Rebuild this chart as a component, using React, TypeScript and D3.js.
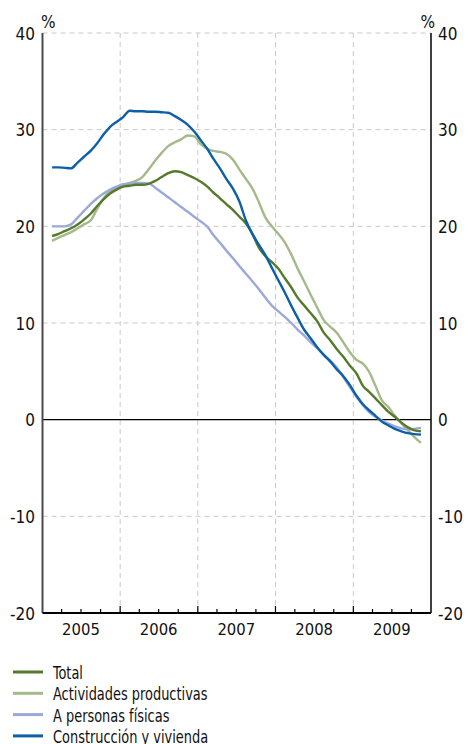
import * as d3 from "d3";

const months = [
  "2005-02", "2005-03", "2005-04", "2005-05", "2005-06", "2005-07", "2005-08", "2005-09", "2005-10", "2005-11", "2005-12",
  "2006-01", "2006-02", "2006-03", "2006-04", "2006-05", "2006-06", "2006-07", "2006-08", "2006-09", "2006-10", "2006-11", "2006-12",
  "2007-01", "2007-02", "2007-03", "2007-04", "2007-05", "2007-06", "2007-07", "2007-08", "2007-09", "2007-10", "2007-11", "2007-12",
  "2008-01", "2008-02", "2008-03", "2008-04", "2008-05", "2008-06", "2008-07", "2008-08", "2008-09", "2008-10", "2008-11", "2008-12",
  "2009-01", "2009-02", "2009-03", "2009-04", "2009-05", "2009-06", "2009-07", "2009-08", "2009-09", "2009-10", "2009-11",
];

const total = [
  19.0, 19.2, 19.5, 19.8, 20.2, 20.7, 21.3, 22.1, 22.8, 23.4, 23.8,
  24.1, 24.2, 24.3, 24.3, 24.4, 24.7, 25.1, 25.5, 25.7, 25.6, 25.3, 25.0,
  24.6, 24.1, 23.5, 22.9, 22.3, 21.7, 21.0, 20.3, 19.2, 17.8, 16.9, 16.3,
  15.6, 14.6, 13.7, 12.6, 11.8, 11.0, 10.2, 9.0, 8.2, 7.3, 6.5, 5.6,
  4.8, 3.5, 2.9, 2.2, 1.5, 0.8, 0.3, -0.3, -0.8, -1.1, -1.2,
];

const actividades = [
  18.5, 18.8, 19.1, 19.4, 19.8, 20.2, 20.6, 21.8, 22.9, 23.6, 24.0,
  24.3, 24.5, 24.7, 25.1, 25.9, 26.8, 27.6, 28.3, 28.7, 29.0, 29.4, 29.3,
  28.5, 28.0, 27.8, 27.7, 27.5, 26.9, 25.9, 24.9, 23.9, 22.5, 20.9, 20.0,
  19.2, 18.3, 17.1, 15.6, 14.3, 12.9, 11.6, 10.3, 9.6, 9.0, 8.0, 7.0,
  6.2, 5.8, 5.0, 3.5, 2.0, 1.3, 0.4, -0.4, -1.1, -1.8, -2.4,
];

const personas = [
  20.0, 20.0, 20.0, 20.2, 20.9, 21.6, 22.3, 22.9, 23.4, 23.8, 24.1,
  24.35, 24.4, 24.5, 24.5, 24.45, 24.0, 23.5, 23.0, 22.5, 22.0, 21.5, 21.0,
  20.5, 19.95, 19.1, 18.3, 17.5, 16.7, 15.9, 15.1, 14.3, 13.5, 12.6, 11.8,
  11.2, 10.6, 10.0, 9.3, 8.7, 8.0, 7.4, 6.7, 6.1, 5.4, 4.4, 3.4,
  2.4, 1.5, 0.8, 0.3, -0.1, -0.4, -0.7, -0.9, -1.0, -0.95, -0.85,
];

const construccion = [
  26.1, 26.1, 26.05, 26.0, 26.6, 27.2, 27.8, 28.6, 29.5, 30.3, 30.8,
  31.3, 31.95, 31.9, 31.9, 31.85, 31.85, 31.8, 31.75, 31.4, 31.0, 30.5, 29.8,
  28.9, 28.0, 27.0, 26.0, 24.9, 23.9, 22.6, 20.6, 19.2, 18.1, 17.0, 15.7,
  14.4, 13.1, 11.8, 10.5, 9.3, 8.4, 7.5, 6.7, 6.0, 5.2, 4.5, 3.6,
  2.5, 1.6, 1.0, 0.4, -0.2, -0.6, -0.95, -1.2, -1.4, -1.5, -1.55,
];

const years = ["2005", "2006", "2007", "2008", "2009"];
const yTicks = [40, 30, 20, 10, 0, -10, -20];

const seriesNames = ["Total", "Actividades productivas", "A personas físicas", "Construcción y vivienda"];
const seriesColors = ["#557a2c", "#a4ba8b", "#9ca8d8", "#0d5fa6"];
const seriesValues = [total, actividades, personas, construccion];
// draw order: back to front
const drawOrder = [1, 2, 0, 3];

const font = "'DejaVu Sans Condensed', 'DejaVu Sans', sans-serif";

export default function App() {
  const parse = d3.timeParse("%Y-%m-%d");
  const dates = months.map(m => parse(m + "-15") as Date);

  const x = d3.scaleTime()
    .domain([new Date(2005, 0, 1), new Date(2010, 0, 1)])
    .range([42.5, 431]);
  const y = d3.scaleLinear().domain([-20, 40]).range([613, 33]);

  const line = d3.line<number>()
    .x((_, i) => x(dates[i]))
    .y(d => y(d))
    .curve(d3.curveMonotoneX);

  const yearBounds = d3.timeYear.range(new Date(2006, 0, 1), new Date(2010, 0, 1));
  const quarters = d3.timeMonth.every(3)!.range(new Date(2005, 3, 1), new Date(2010, 0, 1));
  const [x0, x1] = x.range();

  return (
    <svg width={466} height={744} style={{position: "absolute", left: 0, top: 0}} fontFamily={font}>
      <rect width={466} height={744} fill="#fff" />
      {/* grid */}
      {yTicks.filter(t => t !== 0 && t !== -20).map(t => (
        <line key={"gy" + t} x1={x0} x2={x1} y1={y(t)} y2={y(t)} stroke="#c9c9c9" strokeDasharray="5,4" />
      ))}
      {yearBounds.map(d => (
        <line key={"gx" + d.getFullYear()} x1={x(d)} x2={x(d)} y1={y(40)} y2={y(-20)} stroke="#c9c9c9" strokeDasharray="5,4" />
      ))}
      {/* zero line */}
      <line x1={x0} x2={x1} y1={y(0)} y2={y(0)} stroke="#000" strokeWidth={1.2} />
      {/* series */}
      {drawOrder.map(k => (
        <path key={seriesNames[k]} d={line(seriesValues[k]) || ""} fill="none" stroke={seriesColors[k]} strokeWidth={2.4} strokeLinejoin="round" />
      ))}
      {/* axes */}
      <line x1={x0} x2={x0} y1={y(40)} y2={y(-20)} stroke="#4a4a4a" strokeWidth={2} />
      <line x1={x1} x2={x1} y1={y(40)} y2={y(-20)} stroke="#000" strokeWidth={1.5} />
      <line x1={x0} x2={x1} y1={y(-20)} y2={y(-20)} stroke="#000" strokeWidth={1.8} />
      {quarters.map(d => {
        const major = d.getMonth() === 0;
        return (
          <line key={"q" + +d} x1={x(d)} x2={x(d)} y1={y(-20)} y2={y(-20) - (major ? 7 : 4)} stroke="#000" strokeWidth={1.2} />
        );
      })}
      {/* y labels */}
      {yTicks.map(t => (
        <g key={"yl" + t} fontSize={17} fill="#111">
          <text x={35} y={y(t) + 6.5} textAnchor="end">{t}</text>
          <text x={438} y={y(t) + 6.5}>{t}</text>
        </g>
      ))}
      <text x={41} y={28} fontSize={17} fill="#111">%</text>
      <text x={435} y={28} fontSize={17} fill="#111" textAnchor="end">%</text>
      {/* x labels */}
      {years.map(yr => (
        <text key={yr} x={x(new Date(+yr, 6, 1))} y={635} fontSize={16.5} textAnchor="middle" fill="#111">{yr}</text>
      ))}
      {/* legend */}
      {seriesNames.map((name, i) => {
        const ly = 672 + i * 21.3;
        return (
          <g key={"lg" + name}>
            <line x1={13} x2={43} y1={ly} y2={ly} stroke={seriesColors[i]} strokeWidth={3} />
            <text transform={`translate(53,${ly + 7}) scale(0.8,1)`} fontSize={18} fill="#111">{name}</text>
          </g>
        );
      })}
    </svg>
  );
}
